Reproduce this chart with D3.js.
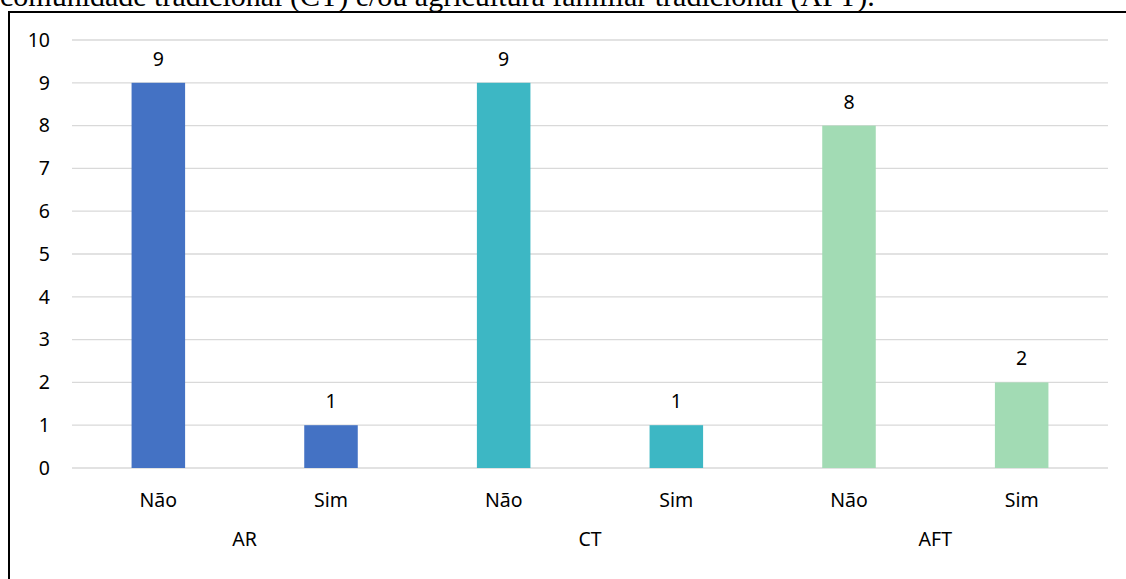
<!DOCTYPE html>
<html>
<head>
<meta charset="utf-8">
<script src="https://cdn.jsdelivr.net/npm/d3@7"></script>
<style>
  body { margin: 0; background: #fff; }
  svg { display: block; }
</style>
</head>
<body>
<div id="chart"></div>
<script>
// data
var groups = ["AR", "CT", "AFT"];
var answers = ["Não", "Sim"];
var values = [9, 1, 9, 1, 8, 2];
var groupColors = ["#4472C4", "#3DB7C4", "#A2DBB4"];
var yTicks = [0, 1, 2, 3, 4, 5, 6, 7, 8, 9, 10];
var caption = "comunidade tradicional (CT) e/ou agricultura familiar tradicional (AFT).";

var width = 1126, height = 579;
var plotLeft = 72, plotRight = 1108, plotTop = 40, plotBottom = 468;

// build bars from the arrays
var bars = [];
groups.forEach(function(g, gi) {
    answers.forEach(function(a, ai) {
        bars.push({ key: g + "-" + a, group: g, answer: a, gi: gi, value: values[gi * answers.length + ai] });
    });
});

var svg = d3.select("#chart").append("svg")
    .attr("width", width)
    .attr("height", height);

// caption from the page above, cut off at the top
svg.append("text")
    .attr("x", 0)
    .attr("y", 6)
    .attr("font-family", "Liberation Serif, Times New Roman, serif")
    .attr("font-size", 30)
    .attr("fill", "#000")
    .text(caption);

// frame of the chart
svg.append("path")
    .attr("d", "M9," + height + " V12 H" + width)
    .attr("fill", "none")
    .attr("stroke", "#000")
    .attr("stroke-width", 2);

var x = d3.scaleBand()
    .domain(bars.map(d => d.key))
    .range([plotLeft, plotRight])
    .paddingInner(0.69)
    .paddingOuter(0.345);

var y = d3.scaleLinear()
    .domain([0, 10])
    .range([plotBottom, plotTop]);

var font = "'Noto Sans', 'Open Sans', sans-serif";
var fs = 19.5;

// gridlines
svg.append("g")
    .selectAll("line")
    .data(yTicks)
    .join("line")
    .attr("x1", plotLeft)
    .attr("x2", plotRight)
    .attr("y1", d => y(d))
    .attr("y2", d => y(d))
    .attr("stroke", "#D9D9D9")
    .attr("stroke-width", 1.3);

// y axis labels
var yAxis = svg.append("g")
    .attr("transform", "translate(" + plotLeft + ",0)")
    .call(d3.axisLeft(y).tickValues(yTicks).tickSize(0).tickPadding(22));
yAxis.select(".domain").remove();
yAxis.selectAll("text")
    .attr("font-family", font)
    .attr("font-size", fs)
    .attr("fill", "#000");

// bars
svg.append("g")
    .selectAll("rect")
    .data(bars)
    .join("rect")
    .attr("x", d => x(d.key))
    .attr("y", d => y(d.value))
    .attr("width", x.bandwidth())
    .attr("height", d => y(0) - y(d.value))
    .attr("fill", d => groupColors[d.gi]);

// value labels
svg.append("g")
    .selectAll("text")
    .data(bars)
    .join("text")
    .attr("x", d => x(d.key) + x.bandwidth() / 2)
    .attr("y", d => y(d.value) - 17)
    .attr("text-anchor", "middle")
    .attr("font-family", font)
    .attr("font-size", fs)
    .attr("fill", "#000")
    .text(d => d.value);

// category labels
var xAxis = svg.append("g")
    .attr("transform", "translate(0," + plotBottom + ")")
    .call(d3.axisBottom(x).tickSize(0).tickPadding(25).tickFormat(k => k.split("-")[1]));
xAxis.select(".domain").remove();
xAxis.selectAll("text")
    .attr("font-family", font)
    .attr("font-size", fs)
    .attr("fill", "#000");

// group labels
svg.append("g")
    .selectAll("text")
    .data(groups)
    .join("text")
    .attr("x", g => (x(g + "-" + answers[0]) + x(g + "-" + answers[1]) + x.bandwidth()) / 2)
    .attr("y", 546)
    .attr("text-anchor", "middle")
    .attr("font-family", font)
    .attr("font-size", fs)
    .attr("fill", "#000")
    .text(g => g);
</script>
</body>
</html>
